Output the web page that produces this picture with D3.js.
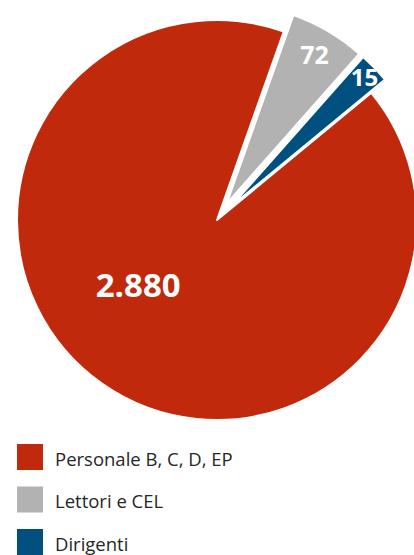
<!DOCTYPE html>
<html>
<head>
<meta charset="utf-8">
<script src="https://cdn.jsdelivr.net/npm/d3@7"></script>
<style>
  html, body { margin: 0; padding: 0; background: #ffffff; }
  svg { display: block; }
</style>
</head>
<body>
<div id="chart"></div>
<script>

// categories and values as printed on the chart
var categories = [ 'Personale B, C, D, EP', 'Lettori e CEL', 'Dirigenti' ];
var values = [ 2880, 72, 15 ];
var valueLabels = [ '2.880', '72', '15' ];
// slice sizes as drawn in the picture (degrees), not proportional to values
var sliceShares = [ 329, 22, 9 ];
var colors = [ '#c0290b', '#b2b2b2', '#00507f' ];
var exploded = [ false, true, true ];

var width = 414,
    height = 555,
    radius = 200,
    cx = 217,
    cy = 220;

var svg = d3.select('#chart').append('svg')
    .attr('width', width)
    .attr('height', height);

var pie = d3.pie()
    .sort( null )
    .startAngle( 50.5 * Math.PI / 180 )
    .endAngle( ( 50.5 + 360 ) * Math.PI / 180 )
    .value( function ( d, i ) { return sliceShares[ i ]; });

var arcs = pie( values );

var arc = d3.arc()
    .innerRadius( 0 )
    .outerRadius( radius );

var g = svg.append('g')
    .attr('transform', 'translate(' + cx + ',' + cy + ')');

function offset ( d, i, dist ) {
    if ( !exploded[ i ] ) return [ 0, 0 ];
    var a = ( d.startAngle + d.endAngle ) / 2;
    return [ Math.sin( a ) * dist, -Math.cos( a ) * dist ];
}

var slices = g.selectAll('.slice')
    .data( arcs )
    .enter().append('g')
    .attr('class', 'slice')
    .attr('transform', function ( d, i ) {
        var o = offset( d, i, 19 );
        return 'translate(' + o[0] + ',' + o[1] + ')';
    });

slices.append('path')
    .attr('d', arc)
    .style('fill', function ( d, i ) { return colors[ i ]; })
    .style('stroke', '#ffffff')
    .style('stroke-width', 2)
    .style('stroke-linejoin', 'round');

// value labels
var labelRadius = [ 0.51, 0.865, 0.93 ];
var labelSize = [ 33, 25, 24 ];

slices.append('text')
    .attr('transform', function ( d, i ) {
        var a = ( d.startAngle + d.endAngle ) / 2;
        if ( i === 0 ) a = 230.6 * Math.PI / 180;
        var r = radius * labelRadius[ i ];
        return 'translate(' + ( Math.sin( a ) * r ) + ',' + ( -Math.cos( a ) * r ) + ')';
    })
    .attr('text-anchor', 'middle')
    .attr('dy', '0.36em')
    .style('font-family', '"Open Sans", sans-serif')
    .style('font-weight', 700)
    .style('font-size', function ( d, i ) { return labelSize[ i ] + 'px'; })
    .style('fill', '#ffffff')
    .text( function ( d, i ) { return valueLabels[ i ]; });

// legend
var legend = svg.append('g')
    .attr('transform', 'translate(17,444)');

var item = legend.selectAll('.item')
    .data( categories )
    .enter().append('g')
    .attr('class', 'item')
    .attr('transform', function ( d, i ) { return 'translate(0,' + ( i * 42.5 ) + ')'; });

item.append('rect')
    .attr('width', 26)
    .attr('height', 26)
    .style('fill', function ( d, i ) { return colors[ i ]; });

item.append('text')
    .attr('x', 38)
    .attr('y', 21.5)
    .style('font-family', '"Open Sans", sans-serif')
    .style('font-size', '18.5px')
    .style('fill', '#262626')
    .text( function ( d ) { return d; });

</script>
</body>
</html>
